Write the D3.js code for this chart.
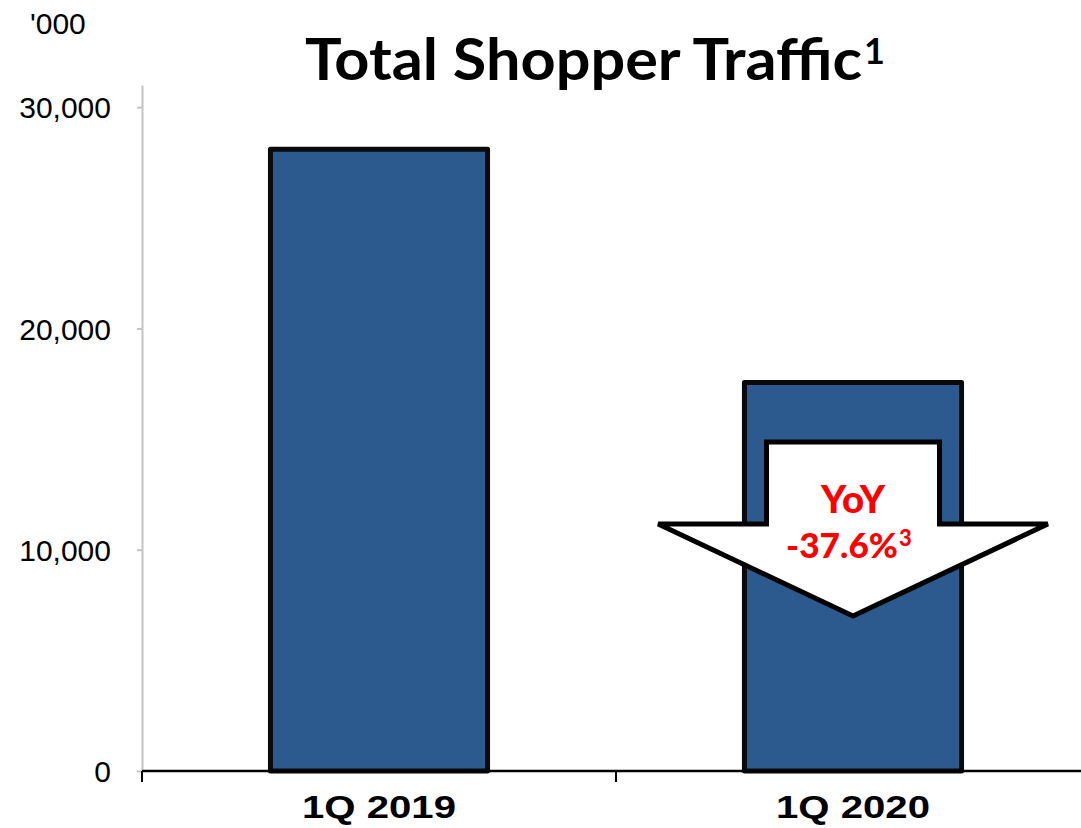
<!DOCTYPE html>
<html>
<head>
<meta charset="utf-8">
<script src="https://cdn.jsdelivr.net/npm/d3@7"></script>
<style>
  body { margin: 0; background: #fff; }
  svg { display: block; }
</style>
</head>
<body>
<div id="chart"></div>
<script>
// data
const quarters = ["1Q 2019", "1Q 2020"];
const traffic = [28100, 17560];
const yTicks = [0, 10000, 20000, 30000];
// YoY arrow (in value units, drawn over 2nd bar)
const arrowLevels = {stemTop: 14870, shoulder: 11160, tip: 7000};
const yoyText = ["YoY", "-37.6%"];

const width = 1081, height = 828;

const svg = d3.select("#chart").append("svg")
    .attr("width", width)
    .attr("height", height);

const x = d3.scaleBand()
    .domain(quarters)
    .range([142, 1090])
    .padding(0);

const y = d3.scaleLinear()
    .domain([0, 31000])
    .range([771, 85]);

const barW = x.bandwidth() * 0.458;

// y axis
const yAxis = svg.append("g")
    .attr("transform", "translate(142,0)")
    .call(d3.axisLeft(y).tickValues(yTicks).tickSize(5).tickSizeOuter(0)
        .tickFormat(d3.format(",")));
yAxis.select(".domain").attr("stroke", "#c4c4c4").attr("stroke-width", 2);
yAxis.selectAll(".tick line").attr("stroke", "#c4c4c4").attr("stroke-width", 2);
yAxis.selectAll(".tick text")
    .attr("x", -31)
    .attr("dy", "0.36em")
    .attr("fill", "#000")
    .style("font-family", "'Liberation Sans', Arial, sans-serif")
    .style("font-size", "30px");

svg.append("text")
    .attr("x", 30)
    .attr("y", 34)
    .attr("fill", "#000")
    .style("font-family", "'Liberation Sans', Arial, sans-serif")
    .style("font-size", "30px")
    .text("'000");

// bars
svg.selectAll(".bar")
    .data(traffic)
    .enter()
    .append("rect")
    .attr("class", "bar")
    .attr("x", (d, i) => x(quarters[i]) + (x.bandwidth() - barW) / 2)
    .attr("y", d => y(d))
    .attr("width", barW)
    .attr("height", d => y(0) - y(d))
    .attr("fill", "#2c5a8e")
    .attr("stroke", "#0a0a0a")
    .attr("stroke-width", 5)
    .attr("stroke-linejoin", "round");

// x axis
const xg = svg.append("g");
xg.append("line")
    .attr("x1", 142).attr("x2", width)
    .attr("y1", y(0)).attr("y2", y(0))
    .attr("stroke", "#000").attr("stroke-width", 2.5);
const bounds = quarters.map(q => x(q)).concat([x.range()[1]]);
xg.selectAll(".xtick")
    .data(bounds)
    .enter()
    .append("line")
    .attr("x1", d => d).attr("x2", d => d)
    .attr("y1", y(0)).attr("y2", y(0) + 11)
    .attr("stroke", "#000").attr("stroke-width", 2);
xg.selectAll(".xlabel")
    .data(quarters)
    .enter()
    .append("text")
    .attr("x", d => x(d) + x.bandwidth() / 2)
    .attr("y", 818)
    .attr("text-anchor", "middle")
    .attr("textLength", 154)
    .attr("lengthAdjust", "spacingAndGlyphs")
    .attr("fill", "#000")
    .style("font-family", "'Liberation Sans', Arial, sans-serif")
    .style("font-weight", "bold")
    .style("font-size", "31px")
    .text(d => d);

// title
const title = svg.append("text")
    .attr("x", 305)
    .attr("y", 80)
    .attr("fill", "#000")
    .style("font-family", "Lato, 'DejaVu Sans', sans-serif")
    .style("font-weight", "bold")
    .style("font-size", "57px");
title.append("tspan")
    .attr("textLength", 557)
    .attr("lengthAdjust", "spacingAndGlyphs")
    .text("Total Shopper Traffic");
title.append("tspan")
    .attr("x", 864)
    .attr("y", 64)
    .style("font-size", "36px")
    .text("1");

// YoY arrow
const cx = x(quarters[1]) + x.bandwidth() / 2;
const stemHalf = x.bandwidth() * 0.1825;
const headHalf = x.bandwidth() * 0.411;
const arrowPts = [
    [cx - headHalf, y(arrowLevels.shoulder)],
    [cx - stemHalf, y(arrowLevels.shoulder)],
    [cx - stemHalf, y(arrowLevels.stemTop)],
    [cx + stemHalf, y(arrowLevels.stemTop)],
    [cx + stemHalf, y(arrowLevels.shoulder)],
    [cx + headHalf, y(arrowLevels.shoulder)],
    [cx, y(arrowLevels.tip)]
];
svg.append("path")
    .attr("d", d3.line()(arrowPts) + "Z")
    .attr("fill", "#fff")
    .attr("stroke", "#000")
    .attr("stroke-width", 5)
    .attr("stroke-linejoin", "miter");

const yoy = svg.append("g")
    .attr("fill", "#ff0000")
    .style("font-family", "Lato, 'DejaVu Sans', sans-serif")
    .style("font-weight", "900");
yoy.append("text")
    .attr("x", cx)
    .attr("y", 513)
    .attr("text-anchor", "middle")
    .attr("textLength", 64)
    .attr("lengthAdjust", "spacingAndGlyphs")
    .style("font-size", "38px")
    .text(yoyText[0]);
const pct = yoy.append("text")
    .attr("x", 786)
    .attr("y", 558)
    .style("font-size", "35px");
pct.append("tspan")
    .attr("textLength", 112)
    .attr("lengthAdjust", "spacingAndGlyphs")
    .text(yoyText[1]);
pct.append("tspan")
    .attr("x", 899)
    .attr("y", 546)
    .style("font-size", "22px")
    .text("3");
</script>
</body>
</html>
